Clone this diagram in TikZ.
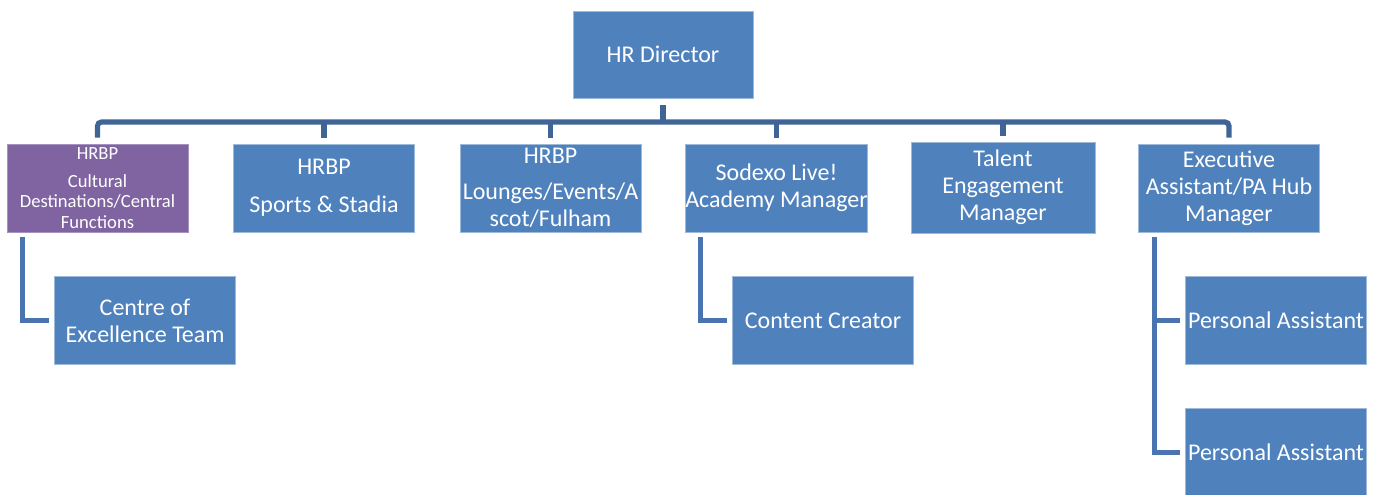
\documentclass[tikz,border=0pt]{standalone}
\usepackage{fontspec}
\setmainfont{Carlito}
\definecolor{boxblue}{HTML}{4F81BD}
\definecolor{boxpurple}{HTML}{8064A2}
\definecolor{buscol}{HTML}{3F6496}
\definecolor{subcol}{HTML}{4A74AF}
\begin{document}
\begin{tikzpicture}[x=0.5pt,y=-0.5pt]
			\tikzstyle{role}=[rectangle,fill=boxblue,draw=boxblue!55!white,line width=0.4pt,text=white,
				minimum width=90.5pt,minimum height=44pt,inner sep=0pt,align=center,
				font=\fontsize{12}{13.4}\selectfont]
			\tikzset{
				purple role/.style={role,fill=boxpurple,draw=boxpurple!70!white,font=\fontsize{9.3}{10.3}\selectfont},
				bus line/.style={draw=buscol,line width=2.6pt},
				sub line/.style={draw=subcol,line width=2.6pt}
			}
			\useasboundingbox (0,0) rectangle (1378,494);
			\node(dir)[role,minimum width=90pt,minimum height=43.5pt] at (663,54.5){HR Director};
			\node(cult)[purple role] at (97.5,188){HRBP\\[3.5pt]Cultural\\Destinations/Central\\Functions};
			\node(sports)[role] at (324,188){HRBP\\[5.5pt]Sports \& Stadia};
			\node(lounges)[role] at (550.5,188){HRBP\\[4.5pt]Lounges/Events/A\\scot/Fulham};
			\node(sodexo)[role] at (776.5,188){Sodexo Live!\\Academy Manager};
			\node(talent)[role,minimum width=92pt,minimum height=45.5pt] at (1003,187.5){Talent\\Engagement\\Manager};
			\node(exec)[role] at (1229,188){Executive\\Assistant/PA Hub\\Manager};
			\node(coe)[role] at (145,320.5){Centre of\\Excellence Team};
			\node(cc)[role] at (823,320.5){Content Creator};
			\node(pa1)[role] at (1276,320.5){Personal Assistant};
			\node(pa2)[role] at (1276,452.5){Personal Assistant};
			\coordinate(busl) at (97,122);
			\draw[bus line] ([yshift=-3.5pt]dir.south) -- (dir.south |- busl);
			\draw[bus line,rounded corners=2pt] ([yshift=3pt]cult.north) -- (cult.north |- busl)
				-- (exec.north |- busl) -- ([yshift=3pt]exec.north);
			\foreach \n in {sports,lounges,sodexo,talent}
				\draw[bus line] ([yshift=3pt]\n.north) -- (\n.north |- busl);
			\coordinate(culttop) at ([xshift=7.75pt,yshift=-2.5pt]cult.south west);
			\coordinate(sodtop) at ([xshift=8pt,yshift=-2.5pt]sodexo.south west);
			\coordinate(exectop) at ([xshift=8pt,yshift=-2.5pt]exec.south west);
			\draw[sub line] (culttop) |- ([xshift=-2.5pt]coe.west);
			\draw[sub line] (sodtop) |- ([xshift=-2.5pt]cc.west);
			\draw[sub line] (exectop) |- ([xshift=-2.5pt]pa2.west);
			\draw[sub line] (exectop |- pa1.west) -- ([xshift=-2.5pt]pa1.west);
\end{tikzpicture}
\end{document}
